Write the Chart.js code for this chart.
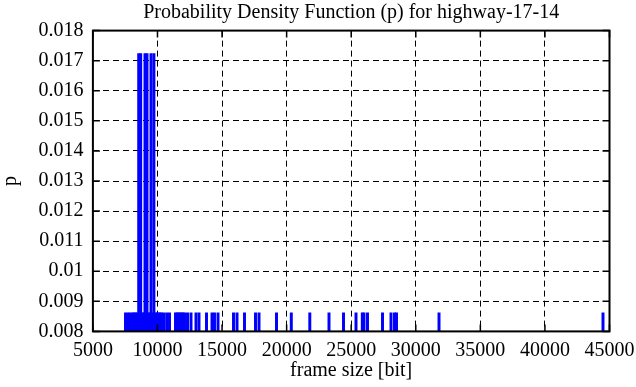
<!DOCTYPE html>
<html lang="en">
<head>
    <meta charset="UTF-8">
    <title>Probability Density Function (p) for highway-17-14</title>
    <script src="https://cdn.jsdelivr.net/npm/chart.js"></script>
    <style>
        body {
            margin: 0;
            background-color: #ffffff;
        }
    </style>
</head>
<body>

<canvas id="pdfChart" width="636" height="387"></canvas>

<script>
    // frame sizes (bits) and their probability
    const frameSizes = [
        7524, 7718, 7873, 8066, 8182, 8299, 8415, 8546, 8647, 8701,
        8841, 8950, 9034, 9112, 9189, 9305, 9421, 9499, 9615, 9723, 9847,
        9963, 10079, 10196, 10312, 10490, 10714, 10931, 11396, 11512, 11628,
        11744, 11860, 11977, 12093, 12325, 12596, 12983, 13215, 13796, 14222,
        14415, 14687, 15887, 16158, 16738, 17590, 17861, 19216, 20362, 21794,
        23281, 24404, 25372, 25860, 25991, 26262, 27424, 28082, 28353, 28508,
        31799, 44497
    ];
    const pValues = [
        0.00862, 0.00862, 0.00862, 0.00862, 0.00862, 0.00862, 0.00862, 0.01724, 0.00862, 0.01724,
        0.00862, 0.00862, 0.01724, 0.00862, 0.01724, 0.00862, 0.00862, 0.01724, 0.00862, 0.01724, 0.00862,
        0.00862, 0.00862, 0.00862, 0.00862, 0.00862, 0.00862, 0.00862, 0.00862, 0.00862, 0.00862,
        0.00862, 0.00862, 0.00862, 0.00862, 0.00862, 0.00862, 0.00862, 0.00862, 0.00862, 0.00862,
        0.00862, 0.00862, 0.00862, 0.00862, 0.00862, 0.00862, 0.00862, 0.00862, 0.00862, 0.00862,
        0.00862, 0.00862, 0.00862, 0.00862, 0.00862, 0.00862, 0.00862, 0.00862, 0.00862, 0.00862,
        0.00862, 0.00862
    ];

    const xTickLabels = ['5000', '10000', '15000', '20000', '25000', '30000', '35000', '40000', '45000'];
    const yTickLabels = ['0.008', '0.009', '0.01', '0.011', '0.012', '0.013', '0.014', '0.015', '0.016', '0.017', '0.018'];

    const fontFamily = '"Liberation Serif", "Times New Roman", serif';

    // gnuplot style frame: solid border plus inward ticks on all four sides
    const framePlugin = {
        id: 'frame',
        afterDatasetsDraw(chart) {
            const { ctx, chartArea: a, scales: { x, y } } = chart;
            const len = 7;
            ctx.save();
            ctx.strokeStyle = '#000';
            ctx.lineWidth = 1.5;
            ctx.beginPath();
            x.ticks.forEach(t => {
                const px = x.getPixelForValue(t.value);
                ctx.moveTo(px, a.bottom); ctx.lineTo(px, a.bottom - len);
                ctx.moveTo(px, a.top); ctx.lineTo(px, a.top + len);
            });
            y.ticks.forEach(t => {
                const py = y.getPixelForValue(t.value);
                ctx.moveTo(a.left, py); ctx.lineTo(a.left + len, py);
                ctx.moveTo(a.right, py); ctx.lineTo(a.right - len, py);
            });
            ctx.stroke();
            ctx.lineWidth = 2;
            ctx.strokeRect(a.left, a.top, a.right - a.left, a.bottom - a.top);
            ctx.restore();
        }
    };

    const ctx = document.getElementById('pdfChart').getContext('2d');
    new Chart(ctx, {
        type: 'bar',
        data: {
            datasets: [{
                data: frameSizes.map((s, i) => ({ x: s, y: pValues[i] })),
                backgroundColor: '#0000ff',
                borderWidth: 0,
                barThickness: 2.3,
                base: 0.008
            }]
        },
        options: {
            responsive: false,
            animation: false,
            layout: { padding: { left: 0, right: 26.5, top: 0, bottom: 0 } },
            plugins: {
                legend: { display: false },
                tooltip: { enabled: false }
            },
            scales: {
                x: {
                    type: 'linear',
                    position: 'bottom',
                    min: 5000,
                    max: 45000,
                    offset: false,
                    grid: { color: '#000', lineWidth: 1, drawTicks: false, offset: false },
                    border: { display: false, dash: [6, 4] },
                    ticks: {
                        stepSize: 5000,
                        autoSkip: false,
                        maxRotation: 0,
                        padding: 7,
                        color: '#000',
                        font: { family: fontFamily, size: 20 },
                        callback: (v, i) => xTickLabels[i]
                    },
                    title: {
                        display: true,
                        text: 'frame size [bit]',
                        color: '#000',
                        font: { family: fontFamily, size: 20, lineHeight: 1 },
                        padding: { top: 0, bottom: 6 }
                    },
                    afterFit: s => {
                        s.height = 55.6;
                        s.paddingLeft = 0;
                        s.paddingRight = 0;
                    }
                },
                xTop: {
                    type: 'linear',
                    position: 'top',
                    min: 5000,
                    max: 45000,
                    grid: { display: false, drawTicks: false },
                    border: { display: false },
                    ticks: { display: false },
                    title: {
                        display: true,
                        text: 'Probability Density Function (p) for highway-17-14',
                        color: '#000',
                        font: { family: fontFamily, size: 20, lineHeight: 1 },
                        padding: { top: 3, bottom: 0 }
                    },
                    afterFit: s => {
                        s.height = 30.6;
                        s.paddingLeft = 0;
                        s.paddingRight = 0;
                    }
                },
                y: {
                    type: 'linear',
                    min: 0.008,
                    max: 0.018,
                    grid: { color: '#000', lineWidth: 1, drawTicks: false },
                    border: { display: false, dash: [6, 4] },
                    ticks: {
                        stepSize: 0.001,
                        padding: 9.5,
                        color: '#000',
                        font: { family: fontFamily, size: 20 },
                        callback: (v, i) => yTickLabels[i]
                    },
                    title: {
                        display: true,
                        text: 'p',
                        color: '#000',
                        font: { family: fontFamily, size: 20, lineHeight: 1 },
                        padding: { top: 1, bottom: 0 }
                    },
                    afterFit: s => { s.width = 92.9; }
                }
            }
        },
        plugins: [framePlugin]
    });
</script>

</body>
</html>
